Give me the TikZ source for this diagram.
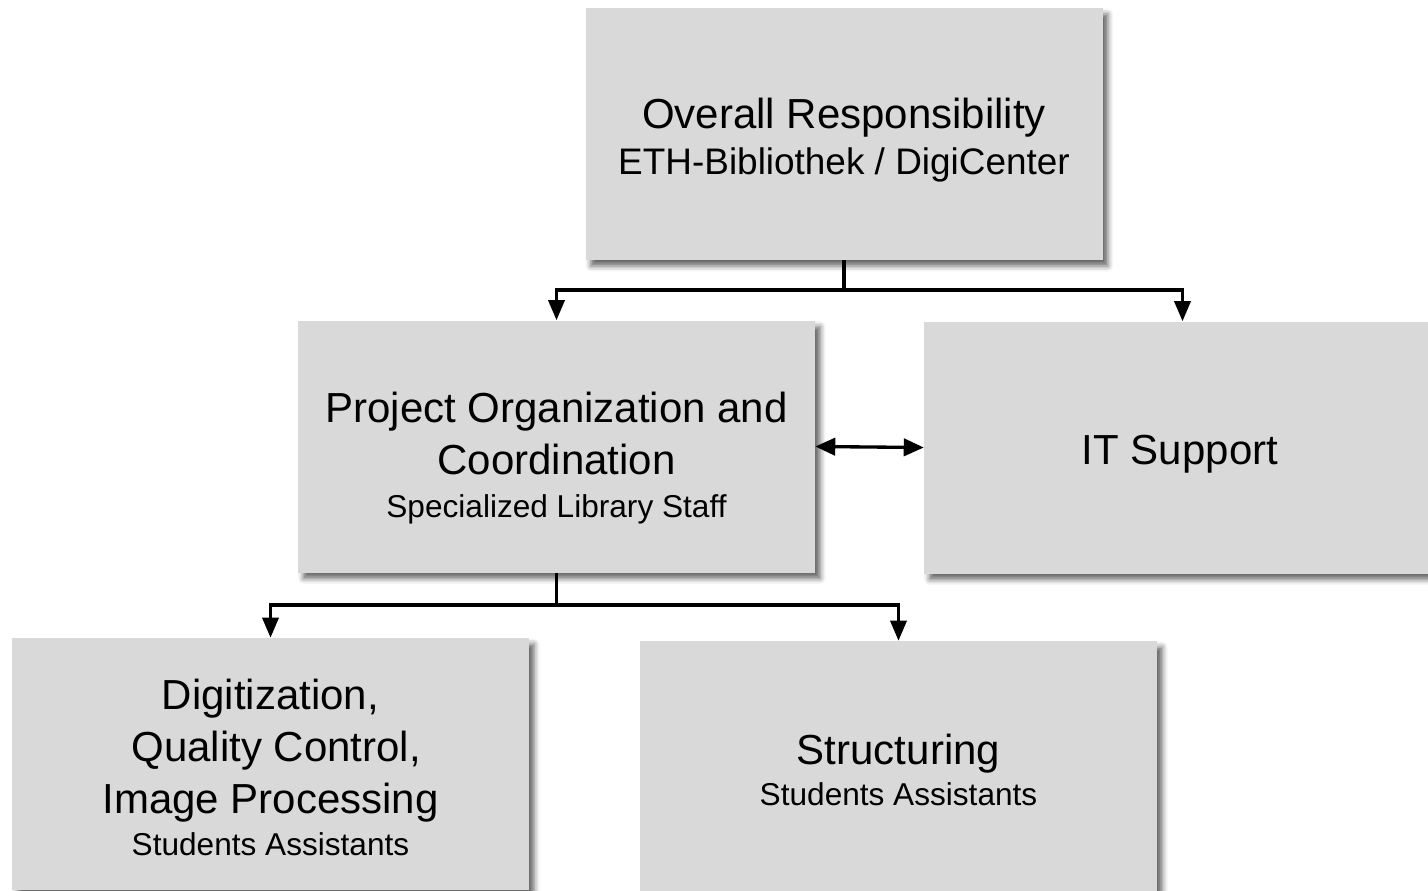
\documentclass[tikz,border=0pt]{standalone}
\usepackage{fontspec}
\setmainfont{Liberation Sans}
\usetikzlibrary{arrows.meta, positioning, shadows.blur}

\definecolor{boxgray}{RGB}{217,217,217}
\newcommand{\headfont}{\fontsize{31.5}{39}\selectfont}
\newcommand{\midfont}{\fontsize{27.7}{33}\selectfont}
\newcommand{\subfont}{\fontsize{23.7}{28}\selectfont}

\tikzset{
  orgbox/.style={fill=boxgray, inner sep=0pt,
    minimum width=387.75pt, minimum height=189pt,
    blur shadow={shadow xshift=4pt, shadow yshift=-4.5pt, shadow blur radius=4pt, shadow opacity=60}},
  orgtext/.style={inner sep=0pt, align=center, font=\headfont},
  orgline/.style={line width=2.5pt, -{Triangle[length=15pt, width=12pt]}},
}

\begin{document}
\begin{tikzpicture}[x=0.75pt,y=0.75pt,yscale=-1,xscale=1]
\useasboundingbox (0,0) rectangle (1428,890);
\clip (0,0) rectangle (1428,890);

% Boxes
\node [orgbox] (resp) at (844,134) {};
\node [orgbox] (coord) at (556.5,446.5) {};
\node [orgbox] (itsup) at (1182.5,447.5) {};
\node [orgbox] (digit) at (270.5,764) {};
\node [orgbox] (struct) at (898.5,767) {};

% Text Node
\node [orgtext] (resptxt) at (844,140) {Overall Responsibility\\[-5pt]{\midfont ETH-Bibliothek / DigiCenter}};
% Text Node
\node [orgtext] (coordtxt) at (556.5,458) {Project Organization and\\Coordination\\[-7pt]{\subfont Specialized Library Staff}};
% Text Node
\node [orgtext] (itsuptxt) at (1180,454) {IT Support};
% Text Node
\node [orgtext] (digittxt) at (270.5,767) {Digitization,\\\ Quality Control,\\Image Processing\\[-7.5pt]{\subfont Students Assistants}};
% Text Node
\node [orgtext] (structtxt) at (898.5,770) {Structuring\\[-8pt]{\subfont Students Assistants}};

% Connectors
\coordinate (respsplit) at (844,290);
\coordinate (coordsplit) at (556.5,605);
\draw [line width=2.5pt] (resp.south) -- (respsplit);
\draw [orgline] (respsplit) -| (coord.north);
\draw [orgline] (respsplit) -| (itsup.north);
\draw [line width=2.5pt] (coord.south) -- (coordsplit);
\draw [orgline] (coordsplit) -| (digit.north);
\draw [orgline] (coordsplit) -| (struct.north);
\draw [line width=2.5pt, {Triangle[length=15pt, width=13pt]}-{Triangle[length=15pt, width=13pt]}] (coord.east) -- (itsup.west);

\end{tikzpicture}
\end{document}
